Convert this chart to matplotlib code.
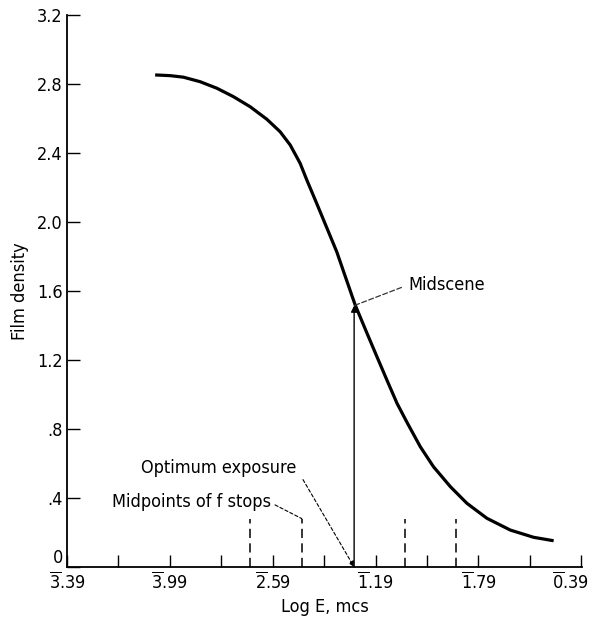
import matplotlib.pyplot as plt
from matplotlib import font_manager
from matplotlib.transforms import ScaledTranslation
import numpy as np

# prefer a narrow face, the original lettering is condensed
names = [(f.name, f.stretch) for f in font_manager.fontManager.ttflist]
if any(n == 'Liberation Sans Narrow' for n, s in names):
    plt.rcParams['font.family'] = ['Liberation Sans Narrow', 'DejaVu Sans']
    base = 'Liberation Sans Narrow'
    fs = 13
elif ('DejaVu Sans', 'condensed') in names:
    plt.rcParams['font.family'] = ['DejaVu Sans']
    plt.rcParams['font.stretch'] = 'condensed'
    base = 'DejaVu Sans:stretch=condensed'
    fs = 13
else:
    plt.rcParams['font.family'] = ['DejaVu Sans']
    base = 'DejaVu Sans'
    fs = 11.5
plt.rcParams['mathtext.fontset'] = 'custom'
plt.rcParams['mathtext.rm'] = base
plt.rcParams['mathtext.it'] = base

# characteristic curve (log E, density)
log_e = [-2.096, -2.009, -1.931, -1.834, -1.736, -1.639, -1.542, -1.444, -1.367,
         -1.308, -1.250, -1.211, -1.152, -1.094, -1.036, -0.987, -0.929, -0.860,
         -0.802, -0.744, -0.685, -0.627, -0.549, -0.472, -0.374, -0.277, -0.160,
         -0.024, 0.112, 0.229]
density = [2.852, 2.848, 2.839, 2.813, 2.775, 2.726, 2.668, 2.595, 2.523,
           2.446, 2.340, 2.243, 2.104, 1.965, 1.826, 1.685, 1.519, 1.355,
           1.219, 1.084, 0.949, 0.839, 0.697, 0.581, 0.466, 0.369, 0.282,
           0.214, 0.172, 0.152]

major_x = [-2.61, -2.01, -1.41, -0.81, -0.21, 0.39]
major_labels = [r'$\overline{\mathrm{3}}$.39', r'$\overline{\mathrm{3}}$.99',
                r'$\overline{\mathrm{2}}$.59', r'$\overline{\mathrm{1}}$.19',
                r'$\overline{\mathrm{1}}$.79', r'$\overline{\mathrm{0}}$.39']
minor_x = [-2.31, -1.71, -1.11, -0.51, 0.09]
y_ticks = [0, 0.4, 0.8, 1.2, 1.6, 2.0, 2.4, 2.8, 3.2]
y_labels = ['0', '.4', '.8', '1.2', '1.6', '2.0', '2.4', '2.8', '3.2']

optimum = -0.935
midscene_d = 1.515
fstops = [-1.54, -1.24, -0.64, -0.34]
fstop_h = 0.28

fig = plt.figure(figsize=(5.9, 6.21), dpi=100)
ax = fig.add_axes([0.1136, 0.087, 0.873, 0.889])

ax.plot(log_e, density, color='black', lw=2.3, solid_capstyle='butt',
        solid_joinstyle='round')

# f stop midpoints
for x in fstops:
    ax.plot([x, x], [0, fstop_h], color='black', lw=1.1, dashes=(6, 3.5))

# optimum exposure arrow up to the curve
ax.annotate('', xy=(optimum, midscene_d), xytext=(optimum, 0),
            arrowprops=dict(arrowstyle='-|>', color='black', lw=1.0,
                            mutation_scale=9, shrinkA=0, shrinkB=0))

# labels with leaders
ax.annotate('Midscene', xy=(optimum, midscene_d), xytext=(-0.62, 1.635),
            fontsize=fs, va='center', ha='left',
            arrowprops=dict(arrowstyle='-', color='#333333', lw=0.9,
                            linestyle=(0, (4, 2)), relpos=(0, 0.5),
                            shrinkA=3, shrinkB=0))
ax.annotate('Optimum exposure', xy=(optimum, 0), xytext=(-1.27, 0.574),
            fontsize=fs, va='center', ha='right',
            arrowprops=dict(arrowstyle='-|>', color='black', lw=0.8,
                            linestyle=(0, (3, 2)), mutation_scale=8,
                            relpos=(1, 0.45), shrinkA=5, shrinkB=0))
ax.annotate('Midpoints of f stops', xy=(fstops[1], fstop_h), xytext=(-1.42, 0.377),
            fontsize=fs, va='center', ha='right',
            arrowprops=dict(arrowstyle='-', color='black', lw=0.8,
                            linestyle=(0, (3, 2)), relpos=(1, 0.45),
                            shrinkA=1, shrinkB=0))

ax.set_xlim(-2.61, 0.395)
ax.set_ylim(0, 3.2)
ax.set_xticks(major_x)
ax.set_xticklabels(major_labels)
ax.set_xticks(minor_x, minor=True)
ax.set_yticks(y_ticks)
ax.set_yticklabels(y_labels)
ax.tick_params(axis='both', which='both', direction='in', length=9, width=1.0,
               labelsize=fs, pad=3)
ax.tick_params(axis='x', which='both', pad=3)

# "0" sits on the axis line, last x label pulled in from the edge
ax.get_yticklabels()[0].set_verticalalignment('bottom')
last = ax.get_xticklabels()[-1]
last.set_transform(last.get_transform() + ScaledTranslation(-0.11, 0, fig.dpi_scale_trans))

for side in ['top', 'right']:
    ax.spines[side].set_visible(False)
for side in ['left', 'bottom']:
    ax.spines[side].set_linewidth(1.3)

ax.set_xlabel('Log E, mcs', fontsize=fs, labelpad=4)
ax.set_ylabel('Film density', fontsize=fs, labelpad=6)

fig.savefig('out.png', dpi=100)
